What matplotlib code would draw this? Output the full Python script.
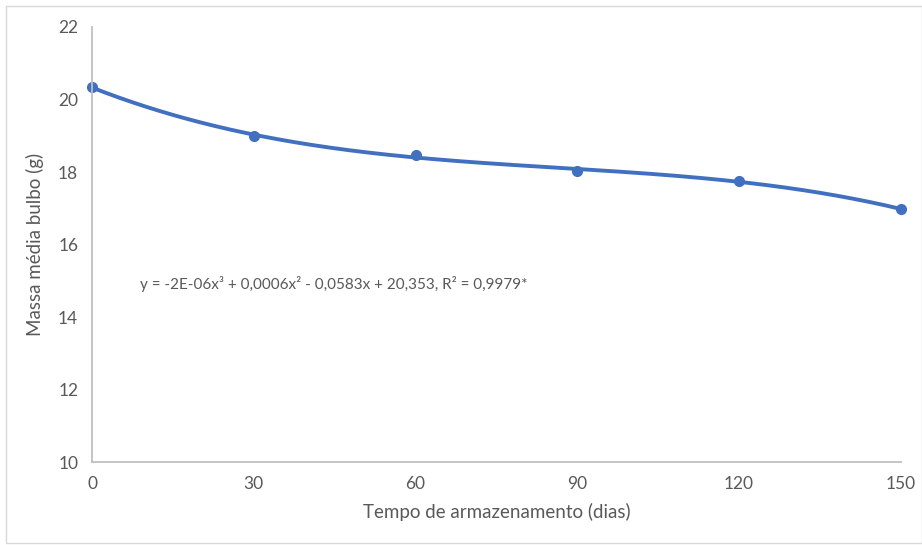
import numpy as np
import matplotlib.pyplot as plt
from matplotlib.patches import Rectangle

dias = [0, 30, 60, 90, 120, 150]
massa = [20.34, 18.99, 18.47, 18.03, 17.75, 16.98]
equacao = "y = -2E-06x³ + 0,0006x² - 0,0583x + 20,353, R² = 0,9979*"

plt.rcParams['font.family'] = ['Lato', 'DejaVu Sans']
cor = '#4170C0'
cinza = '#595959'

fig = plt.figure(figsize=(9.22, 5.45), dpi=100)
ax = fig.add_axes([0.0998, 0.152, 0.8772, 0.7985])

# linha de tendência polinomial (3º grau)
coef = np.polyfit(dias, massa, 3)
xs = np.linspace(0, 150, 300)
ax.plot(xs, np.polyval(coef, xs), color=cor, lw=2.8, solid_capstyle='round')
ax.plot(dias, massa, 'o', color=cor, ms=7)

ax.set_xlim(0, 150)
ax.set_ylim(10, 22)
ax.set_xticks(dias)
ax.set_yticks([10, 12, 14, 16, 18, 20, 22])
ax.tick_params(length=0, colors=cinza, labelsize=12.5, pad=10)
for s in ['top', 'right']:
    ax.spines[s].set_visible(False)
for s in ['left', 'bottom']:
    ax.spines[s].set_color('#bfbfbf')
    ax.spines[s].set_linewidth(1.3)
for l in ax.lines:
    l.set_clip_on(False)

ax.set_xlabel('Tempo de armazenamento (dias)', color=cinza, fontsize=13.5, labelpad=8)
ax.set_ylabel('Massa média bulbo (g)', color=cinza, fontsize=13.5, labelpad=10)
ax.text(8.9, 14.91, equacao, color=cinza, fontsize=11, va='center')

fig.patches.append(Rectangle((0.006, 0.004), 0.994, 0.985, transform=fig.transFigure,
                             fill=False, edgecolor='#d9d9d9', lw=1))

fig.savefig('out.png', dpi=100)
